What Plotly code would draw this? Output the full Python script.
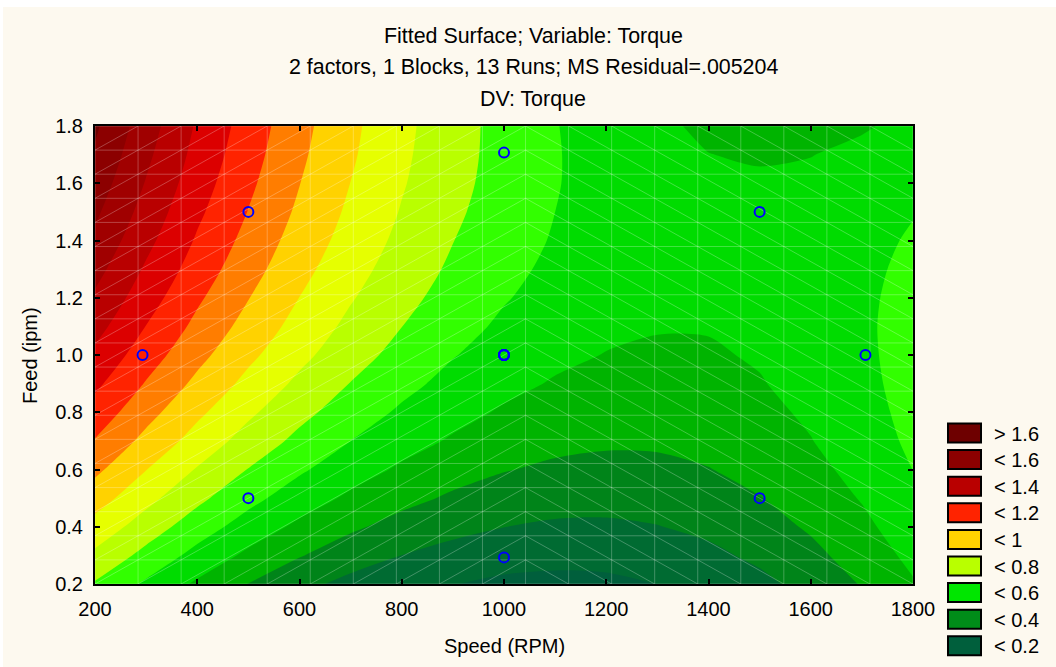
import numpy as np
import plotly.graph_objects as go

# ---------------- data ----------------
speed = [200, 300, 400, 500, 600, 700, 800, 900, 1000, 1100, 1200, 1300, 1400, 1500, 1600, 1700, 1800]
feed = [0.2, 0.3, 0.4, 0.5, 0.6, 0.7, 0.8, 0.9, 1.0, 1.1, 1.2, 1.3, 1.4, 1.5, 1.6, 1.7, 1.8]
# fitted torque, one row per feed value (low to high), one column per speed value
torque = [
    [0.690, 0.584, 0.484, 0.398, 0.328, 0.272, 0.229, 0.203, 0.179, 0.172, 0.178, 0.201, 0.229, 0.275, 0.334, 0.406, 0.491],
    [0.779, 0.670, 0.568, 0.479, 0.406, 0.346, 0.299, 0.266, 0.242, 0.231, 0.233, 0.249, 0.278, 0.320, 0.375, 0.443, 0.525],
    [0.864, 0.752, 0.648, 0.557, 0.479, 0.416, 0.366, 0.328, 0.301, 0.286, 0.285, 0.297, 0.322, 0.361, 0.412, 0.477, 0.555],
    [0.945, 0.830, 0.723, 0.629, 0.549, 0.482, 0.428, 0.386, 0.355, 0.337, 0.332, 0.341, 0.362, 0.397, 0.445, 0.506, 0.581],
    [1.022, 0.902, 0.793, 0.697, 0.614, 0.543, 0.485, 0.439, 0.405, 0.383, 0.375, 0.379, 0.397, 0.429, 0.473, 0.531, 0.601],
    [1.094, 0.972, 0.861, 0.761, 0.675, 0.600, 0.538, 0.489, 0.450, 0.425, 0.413, 0.414, 0.429, 0.456, 0.497, 0.551, 0.618],
    [1.159, 1.034, 0.920, 0.818, 0.728, 0.651, 0.585, 0.531, 0.489, 0.460, 0.445, 0.442, 0.453, 0.477, 0.514, 0.565, 0.628],
    [1.221, 1.093, 0.977, 0.873, 0.779, 0.697, 0.628, 0.570, 0.525, 0.492, 0.473, 0.467, 0.474, 0.495, 0.528, 0.575, 0.635],
    [1.279, 1.148, 1.029, 0.922, 0.826, 0.740, 0.668, 0.605, 0.556, 0.520, 0.497, 0.488, 0.491, 0.508, 0.538, 0.581, 0.638],
    [1.335, 1.198, 1.075, 0.965, 0.865, 0.776, 0.701, 0.636, 0.583, 0.543, 0.518, 0.505, 0.505, 0.518, 0.544, 0.584, 0.637],
    [1.385, 1.245, 1.116, 1.003, 0.899, 0.808, 0.730, 0.661, 0.607, 0.563, 0.534, 0.518, 0.514, 0.524, 0.546, 0.582, 0.632],
    [1.433, 1.287, 1.155, 1.038, 0.931, 0.836, 0.755, 0.684, 0.626, 0.579, 0.547, 0.527, 0.520, 0.526, 0.545, 0.577, 0.623],
    [1.478, 1.327, 1.189, 1.069, 0.958, 0.862, 0.776, 0.702, 0.641, 0.592, 0.557, 0.533, 0.522, 0.524, 0.540, 0.569, 0.611],
    [1.518, 1.362, 1.219, 1.097, 0.982, 0.882, 0.794, 0.717, 0.654, 0.600, 0.562, 0.535, 0.520, 0.519, 0.531, 0.556, 0.595],
    [1.554, 1.394, 1.246, 1.120, 1.002, 0.899, 0.808, 0.729, 0.662, 0.605, 0.564, 0.533, 0.515, 0.510, 0.518, 0.540, 0.575],
    [1.587, 1.421, 1.269, 1.140, 1.018, 0.913, 0.818, 0.735, 0.667, 0.606, 0.562, 0.527, 0.501, 0.493, 0.498, 0.520, 0.551],
    [1.616, 1.446, 1.288, 1.156, 1.031, 0.922, 0.825, 0.739, 0.667, 0.604, 0.556, 0.513, 0.487, 0.475, 0.477, 0.491, 0.524],
]
# the 13 design runs (centre point repeated)
run_speed = [293, 500, 500, 1000, 1000, 1000, 1000, 1000, 1000, 1000, 1500, 1500, 1707]
run_feed = [1.0, 0.5, 1.5, 0.293, 1.0, 1.0, 1.0, 1.0, 1.0, 1.707, 0.5, 1.5, 1.0]

x_ticks = [200, 400, 600, 800, 1000, 1200, 1400, 1600, 1800]
y_ticks = [0.2, 0.4, 0.6, 0.8, 1.0, 1.2, 1.4, 1.6, 1.8]
legend_labels = ["> 1.6", "< 1.6", "< 1.4", "< 1.2", "< 1", "< 0.8", "< 0.6", "< 0.4", "< 0.2"]

# ---------------- styles ----------------
band_colors = ["#005046", "#005F3C", "#006B32", "#008419", "#00B400", "#00DC00",
               "#32FF00", "#B9FF00", "#E6FF00", "#FFD200", "#FF7D00", "#FF2300",
               "#DC0000", "#B90000", "#A00000", "#8C0000", "#6E0000", "#6E0000"]
legend_colors = ["#6E0000", "#8C0000", "#B90000", "#FF2300", "#FFD200", "#B9FF00", "#00E600", "#008C19", "#005F3C"]
FONT = "Liberation Sans, Arial, sans-serif"
BG = "#FDF9EF"

nb = len(band_colors)
cs = []
for k, c in enumerate(band_colors):
    cs.append([k / nb, c])
    cs.append([(k + 1) / nb, c])

fig = go.Figure()
fig.add_trace(go.Contour(x=speed, y=feed, z=torque, colorscale=cs, zmin=0.0, zmax=1.8,
                         contours=dict(start=0.1, end=1.7, size=0.1, coloring="fill", showlines=False),
                         line=dict(smoothing=0.8, width=0), showscale=False, hoverinfo="skip"))

# faint triangulated wireframe of the surface (20 x 20 nodes across the axis ranges)
mx = np.linspace(speed[0], speed[-1], 20)
my = np.linspace(feed[0], feed[-1], 20)
xs, ys = [], []
for x in mx:
    xs += [x, x, None]; ys += [my[0], my[-1], None]
for y in my:
    xs += [mx[0], mx[-1], None]; ys += [y, y, None]
for i in range(19):
    for j in range(19):
        xs += [mx[i], mx[i + 1], None]
        ys += ([my[j], my[j + 1], None] if i < 10 else [my[j + 1], my[j], None])
fig.add_trace(go.Scatter(x=xs, y=ys, mode="lines", line=dict(color="rgba(255,255,255,0.26)", width=1),
                         hoverinfo="skip", showlegend=False))
fig.add_trace(go.Scatter(x=run_speed, y=run_feed, mode="markers",
                         marker=dict(symbol="circle-open", size=10, color="#0000FF",
                                     line=dict(width=2, color="#0000FF")),
                         showlegend=False))

L, T, W, H = 95, 126, 818, 458
def px2x(p): return (p - L) / W
def px2y(p): return (T + H - p) / H

ann = []
for txt, yp in [("Fitted Surface; Variable: Torque", 36),
                ("2 factors, 1 Blocks, 13 Runs; MS Residual=.005204", 67),
                ("DV: Torque", 99)]:
    ann.append(dict(text=txt, x=px2x(533), y=px2y(yp), xref="paper", yref="paper", showarrow=False,
                    xanchor="center", yanchor="middle", font=dict(size=21.4, color="#000000", family=FONT)))
ann.append(dict(text="Speed (RPM)", x=px2x(504), y=px2y(646), xref="paper", yref="paper", showarrow=False,
                xanchor="center", yanchor="middle", font=dict(size=20, color="#000000", family=FONT)))
ann.append(dict(text="Feed (ipm)", x=px2x(30), y=px2y(356), xref="paper", yref="paper", showarrow=False,
                textangle=-90, xanchor="center", yanchor="middle",
                font=dict(size=20, color="#000000", family=FONT)))
shapes = [dict(type="rect", xref="paper", yref="paper", x0=px2x(3), x1=px2x(1060), y0=px2y(670), y1=px2y(7),
               fillcolor=BG, line=dict(width=0), layer="below")]
for i, (lab, col) in enumerate(zip(legend_labels, legend_colors)):
    top = 423.5 + i * 26.6
    shapes.append(dict(type="rect", xref="paper", yref="paper", x0=px2x(948), x1=px2x(981),
                       y0=px2y(top + 19), y1=px2y(top), fillcolor=col, line=dict(color="#000000", width=2)))
    ann.append(dict(text=lab, x=px2x(992), y=px2y(top + 10), xref="paper", yref="paper", showarrow=False,
                    xanchor="left", yanchor="middle", font=dict(size=20, color="#000000", family=FONT)))

axis_common = dict(showline=True, linecolor="#000000", linewidth=2, mirror="ticks", ticks="inside", ticklen=5,
                   tickwidth=2, tickcolor="#000000", showgrid=False, zeroline=False,
                   tickfont=dict(size=20, color="#000000", family=FONT), ticklabelstandoff=6)
fig.update_layout(width=1056, height=667, margin=dict(l=L, r=1056 - L - W, t=T, b=667 - T - H),
                  paper_bgcolor="#FFFFFF", plot_bgcolor=BG, showlegend=False,
                  annotations=ann, shapes=shapes,
                  xaxis=dict(range=[200, 1800], tickvals=x_ticks, **axis_common),
                  yaxis=dict(range=[0.2, 1.8], tickvals=y_ticks, tickformat=".1f", **axis_common))
fig.write_html("out.html")
